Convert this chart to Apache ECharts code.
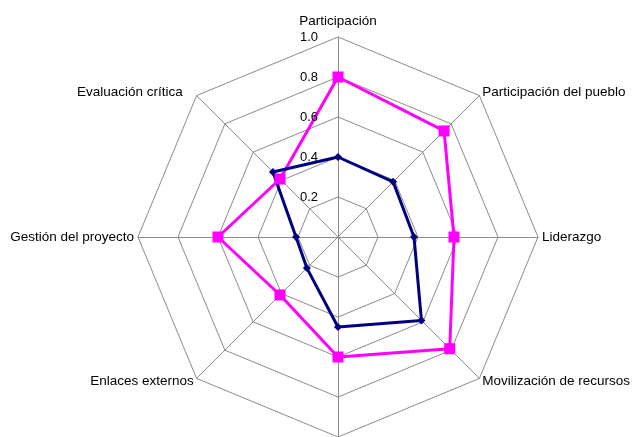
<!DOCTYPE html>
<html><head><meta charset="utf-8">
<script src="https://cdn.jsdelivr.net/npm/echarts@6/dist/echarts.min.js"></script>
<style>html,body{margin:0;padding:0;background:#fff}#c{width:632px;height:437px}</style>
</head><body><div id="c"></div>
<script>
// Indicators in counter-clockwise order starting from the top
const categories = ['Participación', 'Evaluación crítica', 'Gestión del proyecto', 'Enlaces externos', '', 'Movilización de recursos', 'Liderazgo', 'Participación del pueblo'];
const seriesMagenta = [0.80, 0.41, 0.60, 0.41, 0.60, 0.79, 0.58, 0.75];
const seriesNavy = [0.40, 0.46, 0.21, 0.22, 0.45, 0.59, 0.38, 0.39];
const tickLabels = ['0.0', '0.2', '0.4', '0.6', '0.8', '1.0'];

const FONT = 'Liberation Sans, Arial, sans-serif';
const FS = 13.5;
const chart = echarts.init(document.getElementById('c'));
chart.setOption({
  backgroundColor: '#fff',
  animation: false,
  textStyle: {fontFamily: FONT},
  grid: {left: 338, top: 37, width: 100, height: 200, z: 10},
  xAxis: {type: 'value', show: false},
  yAxis: {
    type: 'value', min: 0, max: 1, interval: 0.2, z: 10,
    axisLine: {show: false}, axisTick: {show: false}, splitLine: {show: false},
    axisLabel: {
      margin: 20, color: '#000', fontSize: 13, fontFamily: FONT,
      formatter: function (v) { const i = Math.round(v / 0.2); return i === 0 ? '' : tickLabels[i]; }
    }
  },
  radar: {
    center: [338, 237],
    radius: 200,
    startAngle: 90,
    shape: 'polygon',
    splitNumber: 5,
    z: 1,
    indicator: categories.map(n => ({name: n, min: 0, max: 1})),
    axisName: {
      color: '#000', fontSize: FS, fontFamily: FONT,
      formatter: function (name) {
        if (name === categories[0]) return '{t|' + name + '}';
        if (name === categories[1]) return '{e|' + name + '}';
        return name;
      },
      rich: {
        t: {fontSize: FS, fontFamily: FONT, color: '#000', padding: [0, 0, 5, 0]},
        e: {fontSize: FS, fontFamily: FONT, color: '#000', padding: [0, 11, 0, 0]}
      }
    },
    nameGap: 4,
    axisLine: {lineStyle: {color: '#8c8c8c', width: 1}},
    splitLine: {lineStyle: {color: '#8c8c8c', width: 1}},
    splitArea: {show: false},
    axisLabel: {show: false},
    axisTick: {show: false}
  },
  series: [
    {type: 'line', data: [], silent: true},
    {
      type: 'radar',
      z: 2,
      data: [
        {value: seriesMagenta, symbol: 'rect', symbolSize: 11,
          lineStyle: {color: '#ff00ff', width: 3}, itemStyle: {color: '#ff00ff'}},
        {value: seriesNavy, symbol: 'diamond', symbolSize: 8,
          lineStyle: {color: '#000080', width: 3}, itemStyle: {color: '#000080'}}
      ]
    }
  ]
});
</script>
</body></html>
